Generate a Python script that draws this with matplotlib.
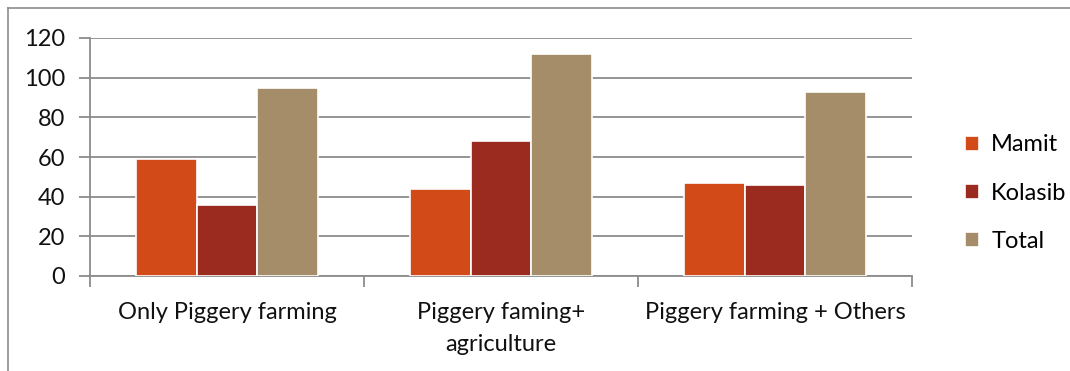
import matplotlib
matplotlib.use("Agg")
import matplotlib.pyplot as plt
from matplotlib.lines import Line2D
import numpy as np

categories = ["Only Piggery farming", "Piggery faming+\nagriculture", "Piggery farming + Others"]
series_names = ["Mamit", "Kolasib", "Total"]
mamit = [59, 44, 47]
kolasib = [36, 68, 46]
total = [95, 112, 93]
y_ticks = [0, 20, 40, 60, 80, 100, 120]

colors = ["#D24A18", "#9B2B1F", "#A58D6A"]

plt.rcParams["font.family"] = ["Lato", "DejaVu Sans"]

W, H = 1070, 371
fig = plt.figure(figsize=(W / 100, H / 100), dpi=100)

# axes placed in pixel coordinates
x0, x1 = 90, 912
y_top, y_bot = 38, 276
ax = fig.add_axes([x0 / W, 1 - y_bot / H, (x1 - x0) / W, (y_bot - y_top) / H])

n = len(categories)
x = np.arange(n)
bar_w = 1 / 4.5
offsets = [-bar_w, 0, bar_w]
for vals, name, col, off in zip([mamit, kolasib, total], series_names, colors, offsets):
    ax.bar(x + off, vals, width=bar_w, color=col, edgecolor="white", linewidth=1.2,
           label=name, zorder=3)

ax.set_xlim(-0.5, n - 0.5)
ax.set_ylim(0, 120)
ax.set_yticks(y_ticks)
ax.set_yticklabels([str(v) for v in y_ticks], fontsize=17, color="#111111")
ax.yaxis.grid(True, color="#8C8C8C", linewidth=1.3, zorder=0)
ax.tick_params(axis="y", length=8, width=1.3, color="#8C8C8C", pad=10)

ax.set_xticks(x)
ax.set_xticklabels(categories, fontsize=17, color="#111111", linespacing=1.6)
ax.tick_params(axis="x", length=0, pad=19)
# category separator ticks
ax.set_xticks(np.arange(-0.5, n, 1.0), minor=True)
ax.tick_params(axis="x", which="minor", length=8, width=1.3, color="#8C8C8C")

for side in ["top", "right"]:
    ax.spines[side].set_visible(False)
ax.spines["left"].set_color("#8C8C8C")
ax.spines["left"].set_linewidth(1.3)
ax.spines["bottom"].set_color("#8C8C8C")
ax.spines["bottom"].set_linewidth(1.3)

leg = fig.legend(loc="center left", bbox_to_anchor=(944 / W, 1 - 193 / H),
                 frameon=False, fontsize=17, handlelength=0.6, handleheight=0.6,
                 handletextpad=0.5, labelspacing=1.15)

# outer frame around the chart
fig.add_artist(Line2D([8 / W, 8 / W], [0, 1 - 8 / H], color="#8C8C8C", linewidth=1.2))
fig.add_artist(Line2D([8 / W, 1], [1 - 8 / H, 1 - 8 / H], color="#8C8C8C", linewidth=1.2))

fig.savefig("out.png", dpi=100)
